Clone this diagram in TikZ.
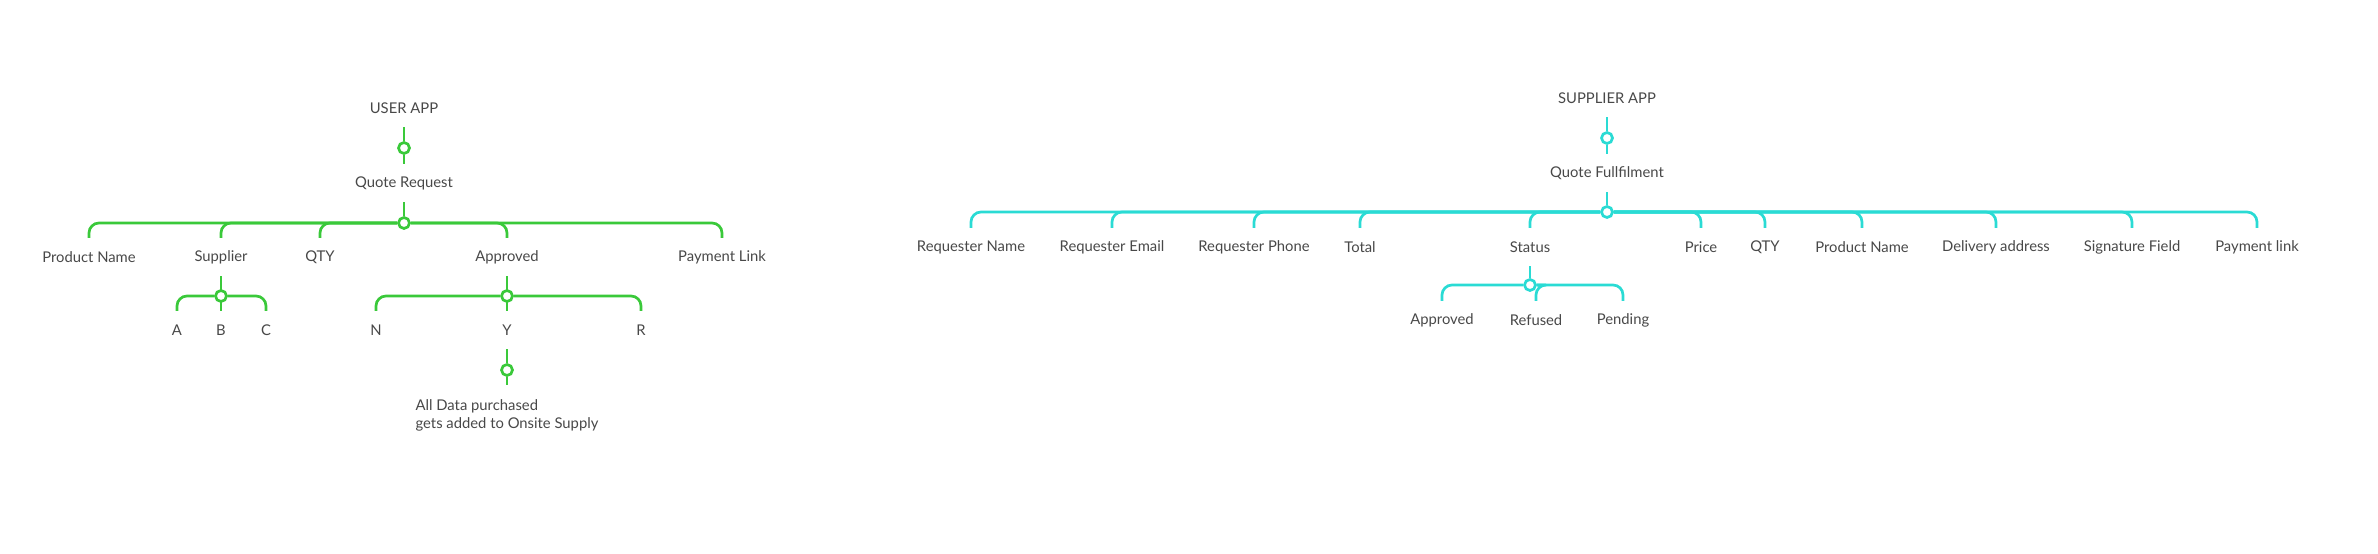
\documentclass[tikz,border=0pt]{standalone}
\usepackage{fontspec}
\setmainfont{Lato}
\usepackage{tikz}
\usetikzlibrary{backgrounds}

\definecolor{usergreen}{RGB}{58,201,58}
\definecolor{supcyan}{RGB}{42,219,212}
\definecolor{labelgray}{RGB}{72,72,72}

\begin{document}
\begin{tikzpicture}[
    x=1pt, y=-1pt,
    item/.style={inner sep=0pt, minimum height=38pt, font=\fontsize{14.8}{18}\selectfont, text=labelgray},
    hub/.style={circle, draw, line width=2.7pt, fill=white, inner sep=0pt, minimum size=11pt},
    link/.style={line width=2.7pt, rounded corners=10pt}
]
\useasboundingbox (0,0) rectangle (2378,554);

% user app
\node[item] (user) at (404,108) {USER APP};
\node[hub, draw=usergreen] (uh1) at (404,148) {};
\node[item] (qreq) at (404,183) {Quote Request};
\node[hub, draw=usergreen] (uh2) at (404,223) {};

\node[item] (pname) at (89,257) {Product Name};
\node[item] (supp) at (221,257) {Supplier};
\node[item] (qty) at (320,257) {QTY};
\node[item] (appr) at (507,257) {Approved};
\node[item] (paylink) at (722,257) {Payment Link};

\node[hub, draw=usergreen] (uh3) at (221,296) {};
\node[item] (sa) at (177,330) {A};
\node[item] (sb) at (221,330) {B};
\node[item] (sc) at (266,330) {C};

\node[hub, draw=usergreen] (uh4) at (507,296) {};
\node[item] (an) at (376,330) {N};
\node[item] (ay) at (507,330) {Y};
\node[item] (ar) at (641,330) {R};

\node[hub, draw=usergreen] (uh5) at (507,370) {};
\node[item, minimum height=0pt, inner ysep=14pt, align=left, anchor=north] (note) at (507,385)
    {All Data purchased\\gets added to Onsite Supply};

% supplier app
\node[item] (supapp) at (1607,98) {SUPPLIER APP};
\node[hub, draw=supcyan] (sh1) at (1607,138) {};
\node[item] (qful) at (1607,173) {Quote Fullfilment};
\node[hub, draw=supcyan] (sh2) at (1607,212) {};

\node[item] (rname) at (971,247) {Requester Name};
\node[item] (remail) at (1112,247) {Requester Email};
\node[item] (rphone) at (1254,247) {Requester Phone};
\node[item] (total) at (1360,247) {Total};
\node[item] (status) at (1530,247) {Status};
\node[item] (price) at (1701,247) {Price};
\node[item] (sqty) at (1765,247) {QTY};
\node[item] (spname) at (1862,247) {Product Name};
\node[item] (deliv) at (1996,247) {Delivery address};
\node[item] (sign) at (2132,247) {Signature Field};
\node[item] (spay) at (2257,247) {Payment link};

\node[hub, draw=supcyan] (sh3) at (1530,285) {};
\node[item] (stappr) at (1442,320) {Approved};
\node[item] (stref) at (1536,320) {Refused};
\node[item] (stpend) at (1623,320) {Pending};

\begin{scope}[on background layer]
  \begin{scope}[link, usergreen]
    \draw (user.south) -- (uh1) -- (qreq.north);
    \draw (qreq.south) -- (uh2);
    \foreach \c in {pname, supp, qty, appr, paylink}
      \draw (uh2) -| (\c.north);
    \draw (supp.south) -- (uh3);
    \foreach \c in {sa, sb, sc}
      \draw (uh3) -| (\c.north);
    \draw (appr.south) -- (uh4);
    \foreach \c in {an, ay, ar}
      \draw (uh4) -| (\c.north);
    \draw (ay.south) -- (uh5) -- (note.north);
  \end{scope}
  \begin{scope}[link, supcyan]
    \draw (supapp.south) -- (sh1) -- (qful.north);
    \draw (qful.south) -- (sh2);
    \foreach \c in {rname, remail, rphone, total, status, price, sqty, spname, deliv, sign, spay}
      \draw (sh2) -| (\c.north);
    \draw (status.south) -- (sh3);
    \foreach \c in {stappr, stref, stpend}
      \draw (sh3) -| (\c.north);
  \end{scope}
\end{scope}
\end{tikzpicture}
\end{document}
